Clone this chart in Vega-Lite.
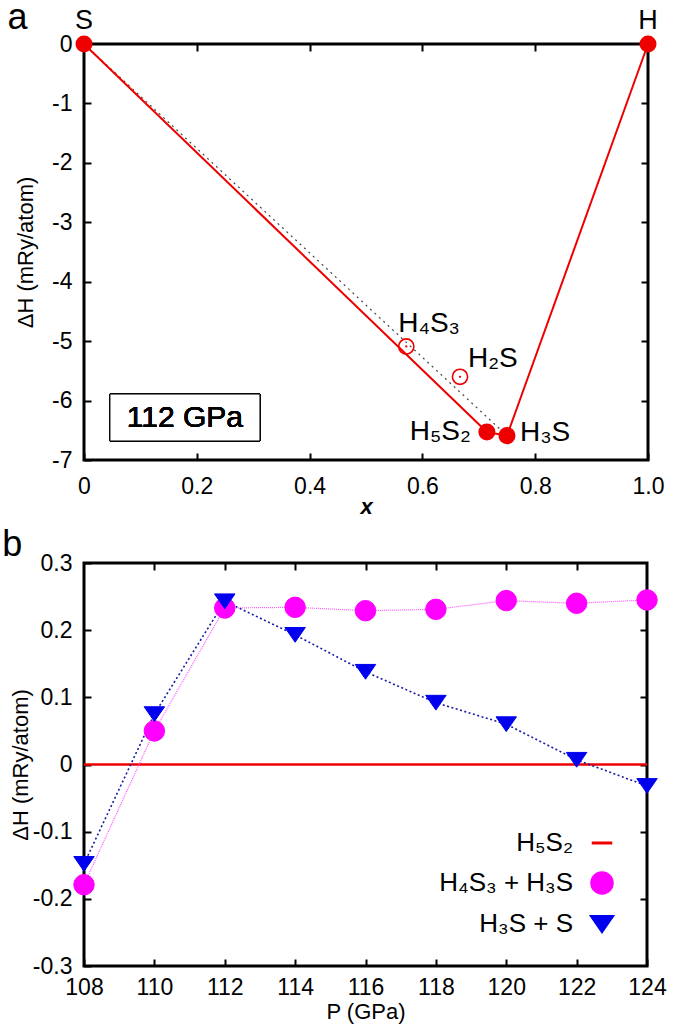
{
  "$schema": "https://vega.github.io/schema/vega-lite/v6.json",
  "padding": {"left": 0, "top": -2, "right": 12, "bottom": 0},
  "background": "white",
  "config": {
    "font": "Liberation Sans",
    "view": {"stroke": "black", "strokeWidth": 3},
    "axis": {
      "grid": false, "domain": false, "ticks": true, "tickSize": -7, "tickWidth": 2, "tickColor": "black", "labelFlush": false,
      "labelFont": "Liberation Sans", "labelFontSize": 23, "labelColor": "black", "labelPadding": 19,
      "titleFont": "Liberation Sans", "titleFontSize": 22, "titleFontWeight": "normal", "titleColor": "black"
    },
    "title": {"fontSize": 36, "fontWeight": "normal", "anchor": "start", "frame": "bounds", "color": "black"},
    "text": {"font": "Liberation Sans", "color": "black"}
  },
  "resolve": {
    "scale": {"color": "independent", "shape": "independent", "size": "independent", "stroke": "independent"},
    "legend": {"color": "independent", "shape": "independent", "size": "independent", "stroke": "independent"}
  },
  "spacing": 6,
  "vconcat": [
    {
      "title": {"text": "a", "offset": -30, "dx": -7},
      "width": 564,
      "height": 416,
      "data": {"values": [
        {"name": "S", "label": "S", "x": 0, "dH": 0, "stable": true},
        {"name": "H4S3", "label": "H₄S₃", "x": 0.5714, "dH": -5.09, "stable": false},
        {"name": "H2S", "label": "H₂S", "x": 0.6667, "dH": -5.6, "stable": false},
        {"name": "H5S2", "label": "H₅S₂", "x": 0.7143, "dH": -6.53, "stable": true},
        {"name": "H3S", "label": "H₃S", "x": 0.75, "dH": -6.59, "stable": true},
        {"name": "H", "label": "H", "x": 1, "dH": 0, "stable": true}
      ]},
      "resolve": {"axis": {"x": "independent", "y": "independent"}},
      "layer": [
        {
          "transform": [{"filter": "datum.name == 'S' || datum.name == 'H3S'"}],
          "mark": {"type": "line", "color": "#444444", "strokeWidth": 1.2, "strokeDash": [2, 4]},
          "encoding": {
            "x": {"field": "x", "type": "quantitative", "scale": {"domain": [0, 1], "nice": false},
                  "axis": {"values": [0, 0.2, 0.4, 0.6, 0.8, 1.0], "labelPadding": 22, "labelExpr": "datum.value == 0 ? '0' : format(datum.value, '.1f')",
                           "title": "x", "titleFontStyle": "italic", "titleFontWeight": "bold", "titlePadding": -2}},
            "y": {"field": "dH", "type": "quantitative", "scale": {"domain": [-7, 0], "nice": false},
                  "axis": {"values": [-7, -6, -5, -4, -3, -2, -1, 0], "labelExpr": "replace(format(datum.value, 'd'), '−', '-')",
                           "title": "ΔH (mRy/atom)", "titlePadding": 14}}
          }
        },
        {
          "transform": [{"filter": "datum.stable"}],
          "mark": {"type": "line", "color": "#ee0000", "strokeWidth": 2},
          "encoding": {
            "x": {"field": "x", "type": "quantitative", "axis": null},
            "y": {"field": "dH", "type": "quantitative", "axis": null},
            "order": {"field": "x"}
          }
        },
        {
          "transform": [{"filter": "datum.stable"}],
          "mark": {"type": "point", "filled": true, "color": "#ee0000", "opacity": 1, "size": 290},
          "encoding": {
            "x": {"field": "x", "type": "quantitative", "axis": null},
            "y": {"field": "dH", "type": "quantitative", "axis": null}
          }
        },
        {
          "transform": [{"filter": "!datum.stable"}],
          "mark": {"type": "point", "filled": false, "color": "#ee0000", "opacity": 1, "size": 230, "strokeWidth": 1.6},
          "encoding": {
            "x": {"field": "x", "type": "quantitative", "axis": null},
            "y": {"field": "dH", "type": "quantitative", "axis": null}
          }
        },
        {
          "transform": [{"filter": "!datum.stable"}],
          "mark": {"type": "point", "filled": true, "color": "#ee0000", "opacity": 1, "size": 5},
          "encoding": {
            "x": {"field": "x", "type": "quantitative", "axis": null},
            "y": {"field": "dH", "type": "quantitative", "axis": null}
          }
        },
        {
          "transform": [{"filter": "datum.name == 'S' || datum.name == 'H'"}],
          "mark": {"type": "text", "fontSize": 27, "align": "center", "baseline": "alphabetic", "dy": -15},
          "encoding": {
            "x": {"field": "x", "type": "quantitative",
                  "axis": {"orient": "top", "labels": false, "title": null, "values": [0.2, 0.4, 0.6, 0.8]}},
            "y": {"field": "dH", "type": "quantitative",
                  "axis": {"orient": "right", "labels": false, "title": null, "values": [-6, -5, -4, -3, -2, -1]}},
            "text": {"field": "label"}
          }
        },
        {
          "transform": [{"filter": "datum.name == 'H4S3'"}],
          "mark": {"type": "text", "fontSize": 28, "align": "left", "baseline": "alphabetic", "dx": -8, "dy": -14},
          "encoding": {
            "x": {"field": "x", "type": "quantitative", "axis": null},
            "y": {"field": "dH", "type": "quantitative", "axis": null},
            "text": {"field": "label"}
          }
        },
        {
          "transform": [{"filter": "datum.name == 'H2S'"}],
          "mark": {"type": "text", "fontSize": 28, "align": "left", "baseline": "alphabetic", "dx": 8, "dy": -10},
          "encoding": {
            "x": {"field": "x", "type": "quantitative", "axis": null},
            "y": {"field": "dH", "type": "quantitative", "axis": null},
            "text": {"field": "label"}
          }
        },
        {
          "transform": [{"filter": "datum.name == 'H5S2'"}],
          "mark": {"type": "text", "fontSize": 28, "align": "right", "baseline": "alphabetic", "dx": -16, "dy": 8},
          "encoding": {
            "x": {"field": "x", "type": "quantitative", "axis": null},
            "y": {"field": "dH", "type": "quantitative", "axis": null},
            "text": {"field": "label"}
          }
        },
        {
          "transform": [{"filter": "datum.name == 'H3S'"}],
          "mark": {"type": "text", "fontSize": 28, "align": "left", "baseline": "alphabetic", "dx": 13, "dy": 5},
          "encoding": {
            "x": {"field": "x", "type": "quantitative", "axis": null},
            "y": {"field": "dH", "type": "quantitative", "axis": null},
            "text": {"field": "label"}
          }
        },
        {
          "mark": {"type": "rect", "fill": "white", "stroke": "black", "strokeWidth": 1},
          "encoding": {
            "x": {"datum": 0.046, "type": "quantitative", "axis": null},
            "x2": {"datum": 0.312},
            "y": {"datum": -5.89, "type": "quantitative", "axis": null},
            "y2": {"datum": -6.68}
          }
        },
        {
          "mark": {"type": "text", "fontSize": 30, "fontWeight": "normal", "align": "center", "baseline": "middle", "text": "112 GPa"},
          "encoding": {
            "x": {"datum": 0.179, "type": "quantitative", "axis": null},
            "y": {"datum": -6.29, "type": "quantitative", "axis": null}
          }
        }
      ]
    },
    {
      "title": {"text": "b", "offset": -12, "dx": -7},
      "width": 563,
      "height": 403,
      "data": {"values": [
        {"s": "H₅S₂", "P": 108, "dH": 0}, {"s": "H₅S₂", "P": 110, "dH": 0}, {"s": "H₅S₂", "P": 112, "dH": 0},
        {"s": "H₅S₂", "P": 114, "dH": 0}, {"s": "H₅S₂", "P": 116, "dH": 0}, {"s": "H₅S₂", "P": 118, "dH": 0},
        {"s": "H₅S₂", "P": 120, "dH": 0}, {"s": "H₅S₂", "P": 122, "dH": 0}, {"s": "H₅S₂", "P": 124, "dH": 0},
        {"s": "H₄S₃ + H₃S", "P": 108, "dH": -0.179}, {"s": "H₄S₃ + H₃S", "P": 110, "dH": 0.05},
        {"s": "H₄S₃ + H₃S", "P": 112, "dH": 0.233}, {"s": "H₄S₃ + H₃S", "P": 114, "dH": 0.234},
        {"s": "H₄S₃ + H₃S", "P": 116, "dH": 0.229}, {"s": "H₄S₃ + H₃S", "P": 118, "dH": 0.231},
        {"s": "H₄S₃ + H₃S", "P": 120, "dH": 0.244}, {"s": "H₄S₃ + H₃S", "P": 122, "dH": 0.24},
        {"s": "H₄S₃ + H₃S", "P": 124, "dH": 0.245},
        {"s": "H₃S + S", "P": 108, "dH": -0.148}, {"s": "H₃S + S", "P": 110, "dH": 0.075},
        {"s": "H₃S + S", "P": 112, "dH": 0.243}, {"s": "H₃S + S", "P": 114, "dH": 0.193},
        {"s": "H₃S + S", "P": 116, "dH": 0.138}, {"s": "H₃S + S", "P": 118, "dH": 0.092},
        {"s": "H₃S + S", "P": 120, "dH": 0.06}, {"s": "H₃S + S", "P": 122, "dH": 0.007},
        {"s": "H₃S + S", "P": 124, "dH": -0.032}
      ]},
      "resolve": {"axis": {"x": "independent", "y": "independent"}},
      "layer": [
        {
          "transform": [{"filter": "datum.s == 'H₅S₂'"}],
          "mark": {"type": "line", "color": "#ee0000", "strokeWidth": 2.5},
          "encoding": {
            "x": {"field": "P", "type": "quantitative", "scale": {"domain": [108, 124], "nice": false, "zero": false},
                  "axis": {"values": [108, 110, 112, 114, 116, 118, 120, 122, 124], "labelPadding": 17, "format": "d",
                           "title": "P (GPa)", "titlePadding": 2}},
            "y": {"field": "dH", "type": "quantitative", "scale": {"domain": [-0.3, 0.3], "nice": false, "zero": false},
                  "axis": {"values": [-0.3, -0.2, -0.1, 0, 0.1, 0.2, 0.3],
                           "labelExpr": "datum.value == 0 ? '0' : replace(format(datum.value, '.1f'), '−', '-')",
                           "title": "ΔH (mRy/atom)", "titlePadding": 0}}
          }
        },
        {
          "transform": [{"filter": "datum.s == 'H₄S₃ + H₃S'"}],
          "mark": {"type": "line", "color": "#ff55ff", "strokeWidth": 1.2, "strokeDash": [1, 1]},
          "encoding": {
            "x": {"field": "P", "type": "quantitative", "axis": null},
            "y": {"field": "dH", "type": "quantitative", "axis": null}
          }
        },
        {
          "transform": [{"filter": "datum.s == 'H₃S + S'"}],
          "mark": {"type": "line", "color": "#1a1aa6", "strokeWidth": 1.6, "strokeDash": [2, 2.5]},
          "encoding": {
            "x": {"field": "P", "type": "quantitative", "axis": null},
            "y": {"field": "dH", "type": "quantitative", "axis": null}
          }
        },
        {
          "transform": [{"filter": "datum.s != 'H₅S₂'"}],
          "mark": {"type": "point", "filled": true, "opacity": 1, "strokeWidth": 1},
          "encoding": {
            "x": {"field": "P", "type": "quantitative",
                  "axis": {"orient": "top", "labels": false, "title": null, "values": [110, 112, 114, 116, 118, 120, 122]}},
            "y": {"field": "dH", "type": "quantitative",
                  "axis": {"orient": "right", "labels": false, "title": null, "values": [-0.2, -0.1, 0, 0.1, 0.2]}},
            "color": {"field": "s", "type": "nominal",
                      "scale": {"domain": ["H₅S₂", "H₄S₃ + H₃S", "H₃S + S"], "range": ["#ee0000", "#ff00ff", "#0000ee"]},
                      "legend": {"title": null, "orient": "bottom-right", "offset": 28, "labelFontSize": 26, "labelFont": "Liberation Sans",
                                 "labelColor": "black", "labelAlign": "right", "labelOffset": -42, "symbolSize": 420, "rowPadding": 10,
                                 "symbolStrokeWidth": 3}},
            "stroke": {"field": "s", "type": "nominal",
                      "scale": {"domain": ["H₅S₂", "H₄S₃ + H₃S", "H₃S + S"], "range": ["#ee0000", "#ff00ff", "#0000ee"]},
                      "legend": {"title": null, "orient": "bottom-right", "offset": 28, "labelFontSize": 26, "labelFont": "Liberation Sans",
                                 "labelColor": "black", "labelAlign": "right", "labelOffset": -42, "symbolSize": 420, "rowPadding": 10,
                                 "symbolStrokeWidth": 3}},
            "shape": {"field": "s", "type": "nominal",
                      "scale": {"domain": ["H₅S₂", "H₄S₃ + H₃S", "H₃S + S"], "range": ["stroke", "circle", "M-1,-0.72L1,-0.72L0,0.72Z"]}},
            "size": {"field": "s", "type": "nominal",
                     "scale": {"domain": ["H₅S₂", "H₄S₃ + H₃S", "H₃S + S"], "range": [420, 420, 500]}, "legend": null}
          }
        }
      ]
    }
  ]
}
